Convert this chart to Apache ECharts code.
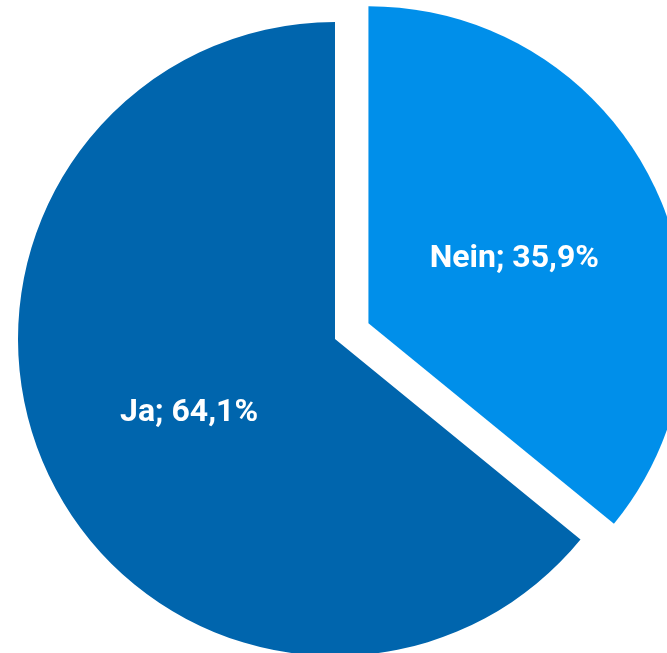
<!DOCTYPE html>
<html>
<head>
<meta charset="utf-8">
<script src="https://cdn.jsdelivr.net/npm/echarts@6/dist/echarts.min.js"></script>
<style>
html,body{margin:0;padding:0;background:#fff;}
#chart{width:667px;height:653px;}
</style>
</head>
<body>
<div id="chart"></div>
<script>
const categories = ['Nein', 'Ja'];
const values = [35.9, 64.1];
const colors = ['#008FEA', '#0065AD'];

const chart = echarts.init(document.getElementById('chart'));
chart.setOption({
  animation: false,
  series: [{
    type: 'pie',
    center: [335, 339],
    radius: [0, 317],
    startAngle: 90,
    clockwise: true,
    selectedMode: 'single',
    selectedOffset: 37,
    avoidLabelOverlap: false,
    label: {
      show: true,
      position: 'inside',
      color: '#fff',
      fontFamily: 'Roboto',
      fontWeight: 'bold',
      fontSize: 32,
      formatter: p => p.name + '; ' + p.value.toFixed(1).replace('.', ',') + '%'
    },
    labelLayout: { dy: 5 },
    labelLine: { show: false },
    itemStyle: { borderWidth: 0 },
    emphasis: { disabled: true },
    data: categories.map((c, i) => ({
      name: c,
      value: values[i],
      selected: i === 0,
      itemStyle: { color: colors[i] }
    }))
  }]
});
</script>
</body>
</html>
